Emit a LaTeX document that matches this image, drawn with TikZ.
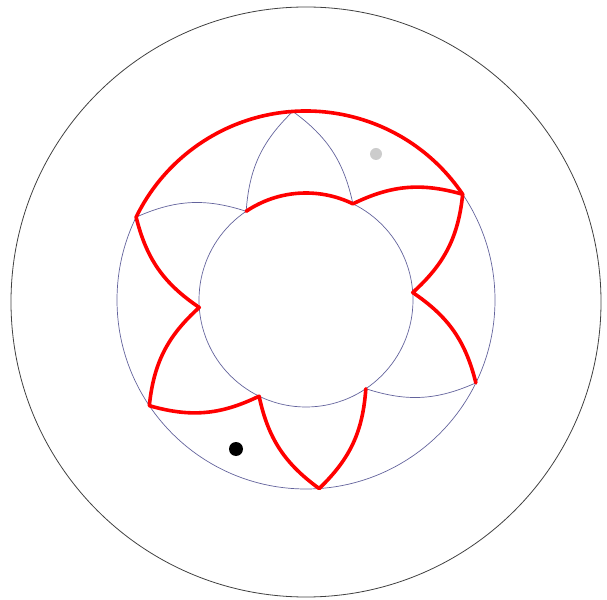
\documentclass[tikz,border=0pt]{standalone}
\usepackage{tikz}

\begin{document}
\begin{tikzpicture}[
    x=1pt, y=1pt,
    rim/.style={draw=black!75, line width=0.8pt},
    ring/.style={draw=blue!22!gray, line width=0.7pt},
    petal/.style={draw=blue!22!gray, line width=0.7pt},
    trace/.style={draw=red, line width=3.6pt, line join=round, line cap=round}
]
\useasboundingbox (-306,-299) rectangle (301,300);

% centre, tips on the middle ring, bases on the inner ring
\coordinate (o) at (0,0);
\foreach \k in {0,...,5} {
    \coordinate (t\k) at ({34+60*\k}:189);
    \coordinate (b\k) at ({4+60*\k}:107);
}

\draw[rim] (0,-2) circle[radius=295];
\draw[ring] (o) circle[radius=189];
\draw[ring] (o) circle[radius=107];

% petal sides
\foreach \k in {0,...,5} {
    \pgfmathtruncatemacro{\n}{mod(\k+1,6)}
    \draw[petal] (b\k) to[bend right=21] (t\k);
    \draw[petal] (b\n) to[bend left=21] (t\k);
}

% red trace
\draw[trace] (t5) to[bend right=21] (b0) to[bend right=21] (t0)
    arc[start angle=34, end angle=154, radius=189]
    to[bend right=21] (b3) to[bend right=21] (t3)
    to[bend right=21] (b4) to[bend right=21] (t4)
    to[bend right=21] (b5);
\draw[trace] (t0) to[bend right=21] (b1)
    arc[start angle=64, end angle=124, radius=107];

% marks
\fill[black] (-70,-149) circle[radius=7];
\fill[black!20] (70,146) circle[radius=6];
\end{tikzpicture}
\end{document}
